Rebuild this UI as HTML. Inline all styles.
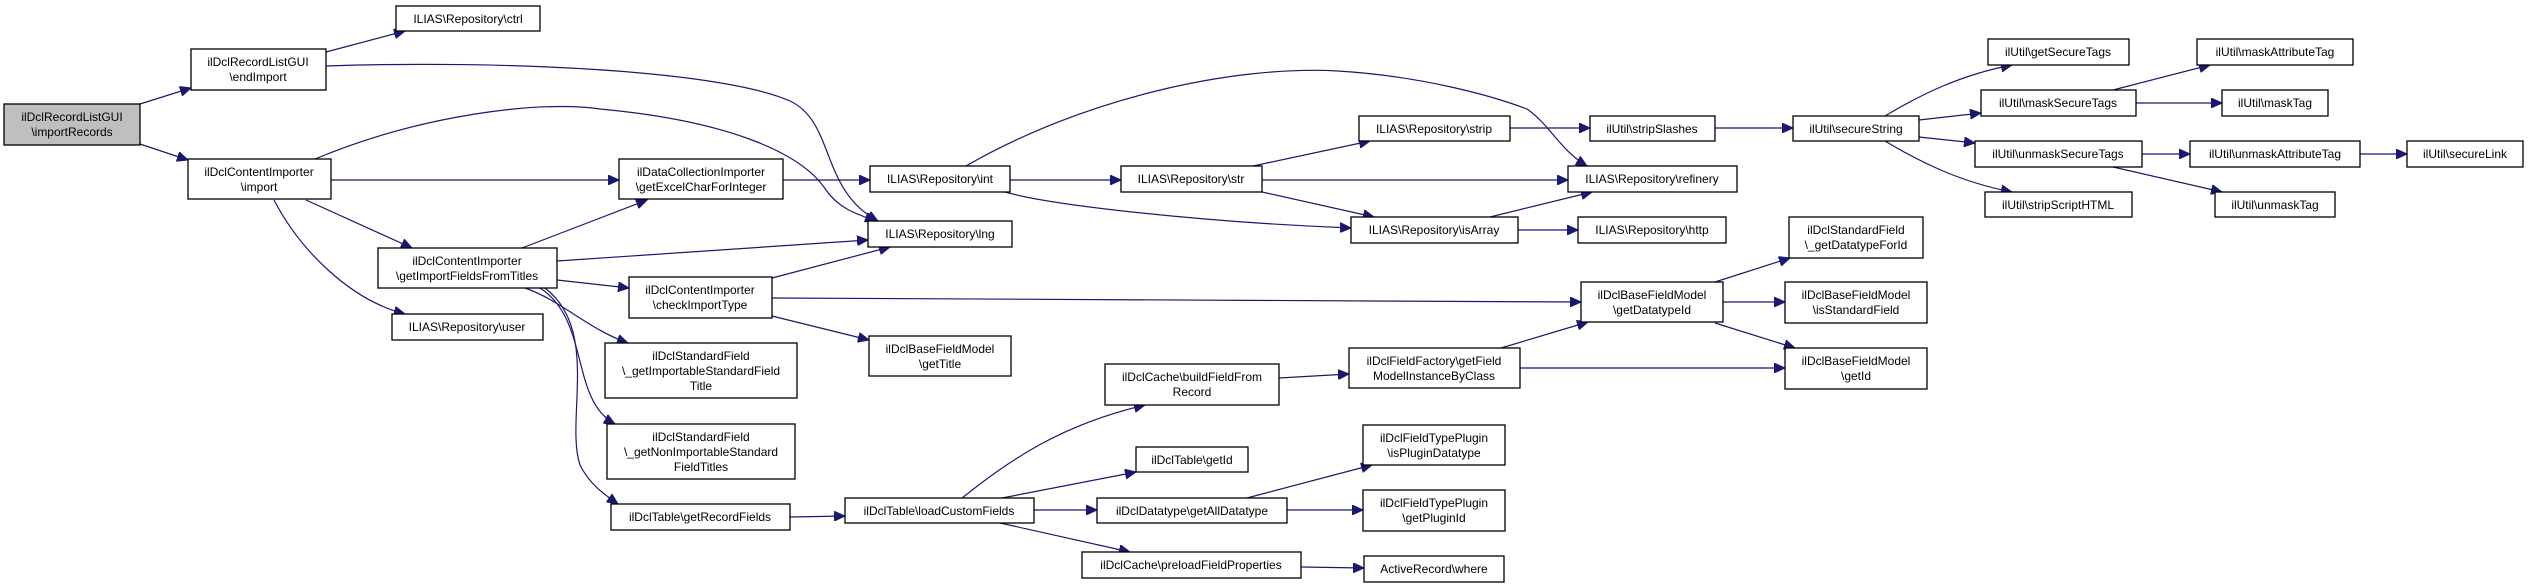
<!DOCTYPE html>
<html><head><meta charset="utf-8"><style>
html,body{margin:0;padding:0;background:#fff;}
svg{display:block;}
text{font-family:"Liberation Sans",Arial,sans-serif;font-size:12px;fill:#000;}
.b{fill:#fff;stroke:#000;stroke-width:1.3;}
.g{fill:#bfbfbf;stroke:#000;stroke-width:1.3;}
.e{fill:none;stroke:#191970;stroke-width:1.2;}
</style></head><body>
<svg width="2528" height="585" viewBox="0 0 2528 585" xmlns="http://www.w3.org/2000/svg">
<defs><marker id="a" markerUnits="userSpaceOnUse" markerWidth="12" markerHeight="10" refX="11" refY="5" orient="auto"><path d="M0,0 L11,5 L0,10 z" fill="#191970" stroke="#191970"/></marker></defs>
<g marker-end="url(#a)">
<path class="e" d="M140,104 L191,88"/>
<path class="e" d="M140,144 L188,160"/>
<path class="e" d="M326,52 L405,31"/>
<path class="e" d="M326,66 C500,60 720,70 790,101 C835,122 820,190 878,221"/>
<path class="e" d="M315,159 C420,115 540,100 600,109 C720,120 800,150 826,190 C840,210 860,215 876,221"/>
<path class="e" d="M331,180 L619,180"/>
<path class="e" d="M306,200 L412,248"/>
<path class="e" d="M274,200 C300,250 350,300 405,314"/>
<path class="e" d="M783,180 L870,180"/>
<path class="e" d="M522,248 L647,200"/>
<path class="e" d="M557,261 L868,240"/>
<path class="e" d="M557,280 L629,288"/>
<path class="e" d="M525,288 C560,300 590,330 628,343"/>
<path class="e" d="M540,288 C590,320 570,400 615,424"/>
<path class="e" d="M545,288 C600,330 565,420 580,465 C590,485 605,495 618,504"/>
<path class="e" d="M772,278 L890,247"/>
<path class="e" d="M772,298 L1581,302"/>
<path class="e" d="M772,316 L869,340"/>
<path class="e" d="M790,517 L845,516"/>
<path class="e" d="M1010,180 L1121,180"/>
<path class="e" d="M966,166 C1080,100 1230,65 1338,71 C1420,76 1490,95 1527,109 C1550,125 1560,150 1587,166"/>
<path class="e" d="M1005,192 C1050,205 1200,222 1351,228"/>
<path class="e" d="M1253,166 L1370,141"/>
<path class="e" d="M1262,180 L1568,180"/>
<path class="e" d="M1262,192 L1374,217"/>
<path class="e" d="M1490,217 L1592,192"/>
<path class="e" d="M1518,230 L1578,230"/>
<path class="e" d="M1510,128 L1590,128"/>
<path class="e" d="M1715,128 L1793,128"/>
<path class="e" d="M1885,116 C1920,95 1960,75 2012,65"/>
<path class="e" d="M1919,120 L1981,113"/>
<path class="e" d="M1919,137 L1975,143"/>
<path class="e" d="M1885,141 C1920,162 1960,182 2012,192"/>
<path class="e" d="M2113,90 L2210,65"/>
<path class="e" d="M2136,103 L2222,103"/>
<path class="e" d="M2142,154 L2190,154"/>
<path class="e" d="M2360,154 L2407,154"/>
<path class="e" d="M2113,167 L2222,192"/>
<path class="e" d="M1715,282 L1790,258"/>
<path class="e" d="M1723,302 L1785,302"/>
<path class="e" d="M1715,323 L1795,348"/>
<path class="e" d="M1501,348 L1588,322"/>
<path class="e" d="M1520,368 L1785,368"/>
<path class="e" d="M962,498 C1010,460 1060,425 1145,405"/>
<path class="e" d="M1002,498 L1136,472"/>
<path class="e" d="M1034,510 L1097,510"/>
<path class="e" d="M1000,523 L1130,552"/>
<path class="e" d="M1279,378 L1349,374"/>
<path class="e" d="M1247,498 L1372,465"/>
<path class="e" d="M1287,510 L1363,510"/>
<path class="e" d="M1301,567 L1364,568"/>
</g>
<g text-anchor="middle">
<rect class="g" x="4" y="104" width="136" height="41"/><text x="72" y="121">ilDclRecordListGUI</text><text x="72" y="136">\importRecords</text>
<rect class="b" x="191" y="49" width="135" height="41"/><text x="258" y="66">ilDclRecordListGUI</text><text x="258" y="81">\endImport</text>
<rect class="b" x="396" y="6" width="144" height="25"/><text x="468" y="23">ILIAS\Repository\ctrl</text>
<rect class="b" x="188" y="159" width="143" height="40"/><text x="259" y="176">ilDclContentImporter</text><text x="259" y="191">\import</text>
<rect class="b" x="619" y="159" width="164" height="40"/><text x="701" y="176">ilDataCollectionImporter</text><text x="701" y="191">\getExcelCharForInteger</text>
<rect class="b" x="378" y="248" width="179" height="40"/><text x="467" y="265">ilDclContentImporter</text><text x="467" y="280">\getImportFieldsFromTitles</text>
<rect class="b" x="629" y="277" width="143" height="41"/><text x="700" y="294">ilDclContentImporter</text><text x="700" y="309">\checkImportType</text>
<rect class="b" x="392" y="314" width="151" height="26"/><text x="467" y="331">ILIAS\Repository\user</text>
<rect class="b" x="605" y="343" width="192" height="55"/><text x="701" y="360">ilDclStandardField</text><text x="701" y="375">\_getImportableStandardField</text><text x="701" y="390">Title</text>
<rect class="b" x="607" y="424" width="188" height="55"/><text x="701" y="441">ilDclStandardField</text><text x="701" y="456">\_getNonImportableStandard</text><text x="701" y="471">FieldTitles</text>
<rect class="b" x="611" y="504" width="179" height="26"/><text x="700" y="521">ilDclTable\getRecordFields</text>
<rect class="b" x="870" y="166" width="140" height="26"/><text x="940" y="183">ILIAS\Repository\int</text>
<rect class="b" x="868" y="221" width="144" height="26"/><text x="940" y="238">ILIAS\Repository\lng</text>
<rect class="b" x="869" y="336" width="142" height="40"/><text x="940" y="353">ilDclBaseFieldModel</text><text x="940" y="368">\getTitle</text>
<rect class="b" x="1121" y="166" width="141" height="26"/><text x="1191" y="183">ILIAS\Repository\str</text>
<rect class="b" x="1359" y="116" width="151" height="25"/><text x="1434" y="133">ILIAS\Repository\strip</text>
<rect class="b" x="1590" y="116" width="125" height="25"/><text x="1652" y="133">ilUtil\stripSlashes</text>
<rect class="b" x="1568" y="166" width="169" height="26"/><text x="1652" y="183">ILIAS\Repository\refinery</text>
<rect class="b" x="1351" y="217" width="167" height="26"/><text x="1434" y="234">ILIAS\Repository\isArray</text>
<rect class="b" x="1578" y="217" width="148" height="26"/><text x="1652" y="234">ILIAS\Repository\http</text>
<rect class="b" x="1581" y="282" width="142" height="40"/><text x="1652" y="299">ilDclBaseFieldModel</text><text x="1652" y="314">\getDatatypeId</text>
<rect class="b" x="1105" y="364" width="174" height="41"/><text x="1192" y="381">ilDclCache\buildFieldFrom</text><text x="1192" y="396">Record</text>
<rect class="b" x="1349" y="348" width="171" height="40"/><text x="1434" y="365">ilDclFieldFactory\getField</text><text x="1434" y="380">ModelInstanceByClass</text>
<rect class="b" x="845" y="498" width="189" height="25"/><text x="939" y="515">ilDclTable\loadCustomFields</text>
<rect class="b" x="1136" y="447" width="112" height="25"/><text x="1192" y="464">ilDclTable\getId</text>
<rect class="b" x="1097" y="498" width="190" height="25"/><text x="1192" y="515">ilDclDatatype\getAllDatatype</text>
<rect class="b" x="1082" y="552" width="219" height="26"/><text x="1191" y="569">ilDclCache\preloadFieldProperties</text>
<rect class="b" x="1363" y="425" width="142" height="40"/><text x="1434" y="442">ilDclFieldTypePlugin</text><text x="1434" y="457">\isPluginDatatype</text>
<rect class="b" x="1363" y="490" width="142" height="41"/><text x="1434" y="507">ilDclFieldTypePlugin</text><text x="1434" y="522">\getPluginId</text>
<rect class="b" x="1364" y="556" width="140" height="26"/><text x="1434" y="573">ActiveRecord\where</text>
<rect class="b" x="1793" y="116" width="126" height="25"/><text x="1856" y="133">ilUtil\secureString</text>
<rect class="b" x="1988" y="39" width="141" height="26"/><text x="2058" y="56">ilUtil\getSecureTags</text>
<rect class="b" x="1981" y="90" width="155" height="26"/><text x="2058" y="107">ilUtil\maskSecureTags</text>
<rect class="b" x="1975" y="141" width="167" height="26"/><text x="2058" y="158">ilUtil\unmaskSecureTags</text>
<rect class="b" x="1985" y="192" width="147" height="25"/><text x="2058" y="209">ilUtil\stripScriptHTML</text>
<rect class="b" x="2197" y="39" width="156" height="26"/><text x="2275" y="56">ilUtil\maskAttributeTag</text>
<rect class="b" x="2222" y="90" width="106" height="26"/><text x="2275" y="107">ilUtil\maskTag</text>
<rect class="b" x="2190" y="141" width="170" height="26"/><text x="2275" y="158">ilUtil\unmaskAttributeTag</text>
<rect class="b" x="2407" y="141" width="116" height="26"/><text x="2465" y="158">ilUtil\secureLink</text>
<rect class="b" x="2215" y="192" width="120" height="25"/><text x="2275" y="209">ilUtil\unmaskTag</text>
<rect class="b" x="1789" y="217" width="134" height="41"/><text x="1856" y="234">ilDclStandardField</text><text x="1856" y="249">\_getDatatypeForId</text>
<rect class="b" x="1785" y="282" width="142" height="41"/><text x="1856" y="299">ilDclBaseFieldModel</text><text x="1856" y="314">\isStandardField</text>
<rect class="b" x="1785" y="348" width="142" height="41"/><text x="1856" y="365">ilDclBaseFieldModel</text><text x="1856" y="380">\getId</text>
</g>
</svg>
</body></html>
